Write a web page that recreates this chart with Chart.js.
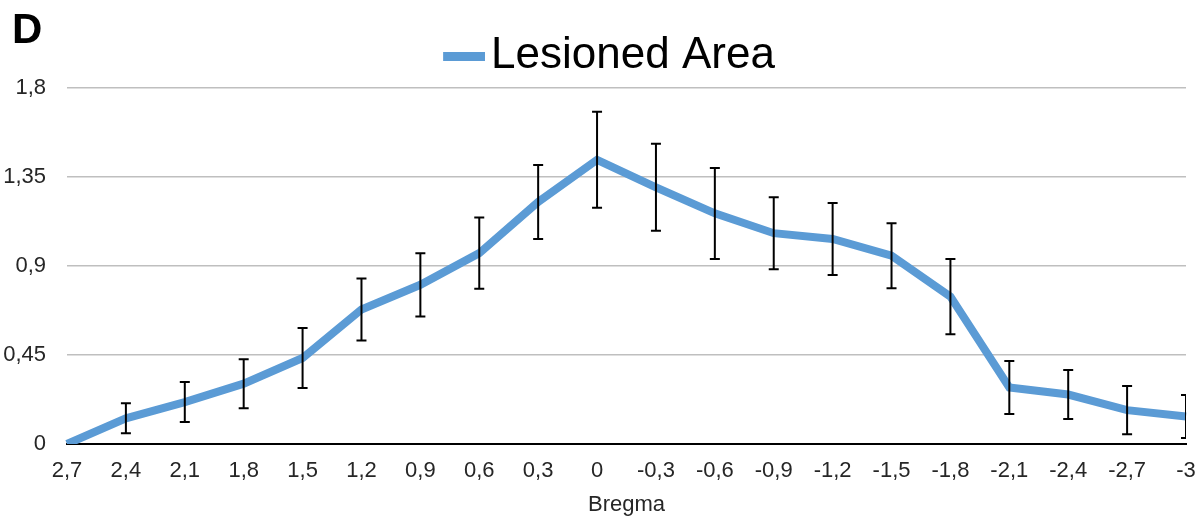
<!DOCTYPE html>
<html>
<head>
<meta charset="utf-8">
<script src="https://cdn.jsdelivr.net/npm/chart.js@4.4.1/dist/chart.umd.min.js"></script>
<style>
  html, body { margin: 0; padding: 0; background: #fff; }
  #wrap { position: relative; width: 1204px; height: 518px; }
  #panel { position: absolute; left: 12px; top: 5px; font: bold 42px "Liberation Sans", Arial, sans-serif; color: #000; }
</style>
</head>
<body>
<div id="wrap">
  <canvas id="chart" width="1204" height="518"></canvas>
  <div id="panel">D</div>
</div>
<script>
// Bregma positions (categories) and lesioned area mean +/- error
const bregma = ["2,7", "2,4", "2,1", "1,8", "1,5", "1,2", "0,9", "0,6", "0,3", "0",
  "-0,3", "-0,6", "-0,9", "-1,2", "-1,5", "-1,8", "-2,1", "-2,4", "-2,7", "-3"];
const lesionedArea = [0, 0.13, 0.212, 0.305, 0.435, 0.68, 0.805, 0.965, 1.224, 1.437,
  1.298, 1.166, 1.066, 1.037, 0.952, 0.745, 0.286, 0.25, 0.171, 0.139];
const errorValues = [0, 0.076, 0.101, 0.124, 0.152, 0.157, 0.16, 0.18, 0.187, 0.243,
  0.22, 0.23, 0.182, 0.182, 0.164, 0.19, 0.134, 0.124, 0.122, 0.109];
const yTicks = [0, 0.45, 0.9, 1.35, 1.8];

const lineColor = "#5b9bd5";

// legend sample: a short thick bar, drawn on the right half of the point image
const legendBar = document.createElement("canvas");
legendBar.width = 90;
legendBar.height = 9;
const lctx = legendBar.getContext("2d");
lctx.fillStyle = lineColor;
lctx.fillRect(48, 0, 42, 9);

const errorBars = {
  id: "errorBars",
  afterDatasetsDraw(chart) {
    const { ctx, chartArea, scales } = chart;
    ctx.save();
    ctx.beginPath();
    ctx.rect(chartArea.left, chartArea.top - 20, chartArea.right - chartArea.left, chartArea.bottom - chartArea.top + 20);
    ctx.clip();
    ctx.strokeStyle = "#000";
    ctx.lineWidth = 2;
    lesionedArea.forEach((v, i) => {
      if (!errorValues[i]) return;
      const x = scales.x.getPixelForValue(i);
      const yTop = scales.y.getPixelForValue(v + errorValues[i]);
      const yBot = scales.y.getPixelForValue(v - errorValues[i]);
      ctx.beginPath();
      ctx.moveTo(x, yTop);
      ctx.lineTo(x, yBot);
      ctx.moveTo(x - 5, yTop);
      ctx.lineTo(x + 5, yTop);
      ctx.moveTo(x - 5, yBot);
      ctx.lineTo(x + 5, yBot);
      ctx.stroke();
    });
    ctx.restore();
  }
};

new Chart(document.getElementById("chart"), {
  type: "line",
  data: {
    labels: bregma,
    datasets: [{
      label: "Lesioned Area",
      data: lesionedArea,
      borderColor: lineColor,
      backgroundColor: lineColor,
      borderWidth: 8,
      pointRadius: 0,
      tension: 0
    }]
  },
  options: {
    responsive: false,
    animation: false,
    layout: { padding: { left: 0, right: 18, top: 28, bottom: 2 } },
    plugins: {
      tooltip: { enabled: false },
      legend: {
        labels: {
          font: { family: "Liberation Sans, Arial", size: 44 },
          color: "#000",
          usePointStyle: true,
          pointStyleWidth: 58,
          boxHeight: 9,
          padding: 6,
          generateLabels(chart) {
            return chart.data.datasets.map((ds, i) => ({
              text: ds.label,
              fillStyle: ds.borderColor,
              strokeStyle: ds.borderColor,
              lineWidth: 0,
              pointStyle: legendBar,
              datasetIndex: i
            }));
          }
        }
      }
    },
    scales: {
      x: {
        offset: false,
        afterFit(scale) {
          scale.height = 72;
          scale.paddingLeft = 0;
          scale.paddingRight = 0;
        },
        grid: { display: false, drawTicks: false },
        border: { color: "#000", width: 2 },
        ticks: {
          color: "#262626",
          font: { family: "Liberation Sans, Arial", size: 22, lineHeight: 1 },
          maxRotation: 0,
          autoSkip: false,
          padding: 16
        },
        title: {
          display: true,
          text: "Bregma",
          color: "#262626",
          font: { family: "Liberation Sans, Arial", size: 22, lineHeight: 1 },
          padding: { top: 0, bottom: 0 }
        }
      },
      y: {
        min: 0,
        max: 1.8,
        afterBuildTicks(scale) {
          scale.ticks = yTicks.map(v => ({ value: v }));
        },
        afterFit(scale) {
          scale.width = 67;
        },
        grid: { color: "#bfbfbf", lineWidth: 1.5, drawTicks: false },
        border: { display: false },
        ticks: {
          color: "#262626",
          font: { family: "Liberation Sans, Arial", size: 22 },
          padding: 21,
          callback: v => String(v).replace(".", ",")
        }
      }
    }
  },
  plugins: [errorBars]
});
</script>
</body>
</html>
